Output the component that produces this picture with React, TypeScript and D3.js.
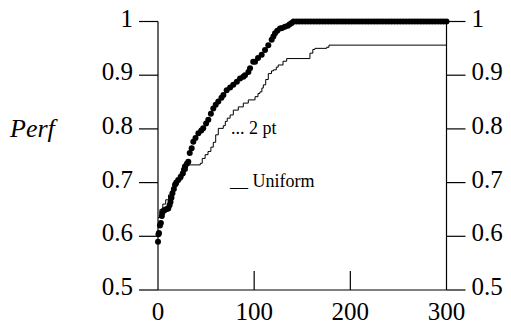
import React from 'react';
import * as d3 from 'd3';

// "2 pt" series: rising part
const twoPtX = [0, 0.5, 1, 2, 3, 4, 4.5, 6, 7, 9, 10.7, 12, 13, 14, 15, 16.5, 17.7, 19, 21, 23.6, 25.7, 27, 28, 30, 31.5, 33, 35, 36.7, 39, 42, 45, 47, 50, 52.3, 55, 57.5, 60, 62.7, 66, 68, 71.4, 75, 78.3, 82, 85.3, 88.7, 90.5, 94, 95.7, 99, 100.9, 104, 107.8, 111.3, 114.7, 118.2, 120, 121.7, 124, 126.9, 129, 132, 135, 137, 139];
const twoPtY = [0.59, 0.604, 0.606, 0.62, 0.625, 0.638, 0.644, 0.648, 0.649, 0.651, 0.652, 0.658, 0.664, 0.672, 0.68, 0.688, 0.696, 0.7, 0.705, 0.711, 0.717, 0.724, 0.73, 0.735, 0.739, 0.755, 0.764, 0.776, 0.783, 0.792, 0.797, 0.801, 0.81, 0.817, 0.828, 0.838, 0.845, 0.851, 0.858, 0.863, 0.872, 0.877, 0.882, 0.888, 0.894, 0.897, 0.9, 0.906, 0.913, 0.925, 0.925, 0.932, 0.938, 0.947, 0.956, 0.966, 0.972, 0.978, 0.983, 0.987, 0.988, 0.99, 0.992, 0.995, 0.997];
// "2 pt" series: points sitting on 1.0
const plateauX = [141, 144, 147, 150, 153, 156, 159, 162, 165, 168, 171, 174, 177, 180, 183, 186, 189, 192, 195, 198, 201, 204, 207, 210, 213, 216, 219, 222, 225, 228, 231, 234, 237, 240, 243, 246, 249, 252, 255, 258, 261, 264, 267, 270, 273, 276, 279, 282, 285, 288, 291, 294, 297, 300];
const plateauY = 1;

// "Uniform" series (step line)
const uniX = [0, 2, 5, 8, 11, 14, 17, 21, 25, 28, 30.5, 44, 46, 49, 52, 55, 57.5, 60, 62.7, 67.9, 70, 72, 75, 78.3, 83.5, 88.7, 93.9, 100.9, 104, 106, 108, 109.5, 112, 114.7, 118, 120, 123, 125, 130, 133.8, 158, 161, 163.2, 175.4, 177.8, 300];
const uniY = [0.635, 0.65, 0.66, 0.668, 0.677, 0.686, 0.695, 0.705, 0.714, 0.722, 0.733, 0.736, 0.745, 0.752, 0.758, 0.766, 0.775, 0.789, 0.801, 0.806, 0.814, 0.82, 0.826, 0.835, 0.841, 0.848, 0.854, 0.86, 0.866, 0.869, 0.876, 0.882, 0.892, 0.903, 0.908, 0.91, 0.915, 0.919, 0.926, 0.931, 0.941, 0.948, 0.95, 0.952, 0.956, 0.956];

const xTicks = [0, 100, 200, 300];
const yTicks = [0.5, 0.6, 0.7, 0.8, 0.9, 1];
const yTickLabels = ['0.5', '0.6', '0.7', '0.8', '0.9', '1'];

const W = 511;
const H = 326;
const serif = { fontFamily: "'Liberation Serif', serif" };

export default function App() {
  const x = d3.scaleLinear().domain([0, 300]).range([158, 446.5]);
  const y = d3.scaleLinear().domain([0.5, 1]).range([290, 21.5]);

  const uniPts: [number, number][] = uniX.map((v, i) => [v, uniY[i]]);
  const uniPath = d3
    .line<[number, number]>()
    .x(d => x(d[0]))
    .y(d => y(d[1]))
    .curve(d3.curveStepAfter)(uniPts) || '';

  const dots = [
    ...twoPtX.map((v, i) => [v, twoPtY[i]]),
    ...plateauX.map(v => [v, plateauY]),
  ];

  const tickLen = 19;

  return (
    <svg width={W} height={H} style={{ position: 'absolute', left: 0, top: 0, background: '#fff' }}>
      {/* axes */}
      <g stroke="#000" strokeWidth={1.2} fill="none">
        <line x1={x(0)} x2={x(0)} y1={y(1)} y2={y(0.5)} />
        <line x1={x(300)} x2={x(300)} y1={y(1)} y2={y(0.5)} />
        <line x1={x(0)} x2={x(300)} y1={y(0.5)} y2={y(0.5)} />
        {yTicks.map(t => (
          <g key={t}>
            <line x1={x(0) - tickLen} x2={x(0)} y1={y(t)} y2={y(t)} />
            <line x1={x(300)} x2={x(300) + tickLen} y1={y(t)} y2={y(t)} />
          </g>
        ))}
        {xTicks.slice(1, -1).map(t => (
          <line key={t} x1={x(t)} x2={x(t)} y1={y(0.5)} y2={y(0.5) - tickLen} />
        ))}
      </g>

      {/* tick labels */}
      <g style={serif} fontSize={25} fill="#000">
        {yTicks.map((t, i) => (
          <g key={t}>
            <text x={x(0) - tickLen - 6} y={y(t) + 5} textAnchor="end">{yTickLabels[i]}</text>
            <text x={x(300) + tickLen + 6} y={y(t) + 5} textAnchor="start">{yTickLabels[i]}</text>
          </g>
        ))}
        {xTicks.map(t => (
          <text key={t} x={x(t)} y={320} textAnchor="middle">{t}</text>
        ))}
      </g>

      <text x={10} y={137} style={serif} fontStyle="italic" fontSize={26}>Perf</text>

      {/* series */}
      <path d={uniPath} fill="none" stroke="#000" strokeWidth={1} />
      <g fill="#000">
        {dots.map((d, i) => (
          <circle key={i} cx={x(d[0])} cy={y(d[1])} r={3} />
        ))}
      </g>

      {/* legend labels */}
      <g style={serif} fontSize={18} fill="#000">
        <text x={231} y={134}>... 2 pt</text>
        <text x={230} y={187}>__ Uniform</text>
      </g>
    </svg>
  );
}
